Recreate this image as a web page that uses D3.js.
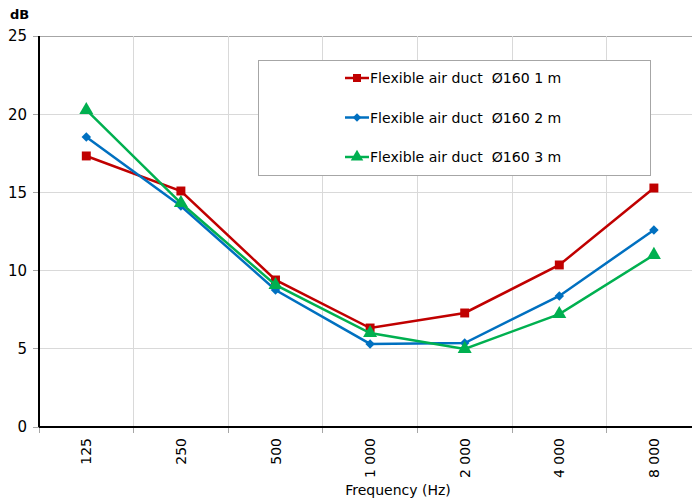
<!DOCTYPE html>
<html><head><meta charset="utf-8">
<script src="https://cdn.jsdelivr.net/npm/d3@7"></script>
<style>body{margin:0;background:#fff}svg{display:block}text{white-space:pre}</style>
</head><body><svg id="c" width="692" height="500"></svg>
<script>
const categories = ["125","250","500","1 000","2 000","4 000","8 000"];
const series1m = [17.33,15.09,9.4,6.33,7.29,10.36,15.28];
const series2m = [18.54,14.13,8.76,5.31,5.37,8.38,12.6];
const series3m = [20.27,14.32,9.08,6.01,4.99,7.22,11.0];
const seriesNames = ["Flexible air duct  Ø160 1 m","Flexible air duct  Ø160 2 m","Flexible air duct  Ø160 3 m"];
const yTicks = [0,5,10,15,20,25];

const colors = ["#C00000","#0070C0","#00B050"];
const symbols = [d3.symbolSquare, d3.symbolSquare, d3.symbolTriangle];
const symRot = [0, 45, 0];
const symSizes = [80, 45, 85];
const allSeries = [series1m, series2m, series3m];

const svg = d3.select("#c");
const font = "Tahoma, 'DejaVu Sans', Verdana, sans-serif";
const L = 39, T = 36, B = 427, band = 94.6;
const x = d3.scaleBand().domain(categories).range([L, L + band*categories.length]).paddingInner(0).paddingOuter(0);
const y = d3.scaleLinear().domain([0,25]).range([B, T]);

// horizontal grid
svg.append("g").selectAll("line").data(yTicks).join("line")
  .attr("x1", L-6).attr("x2", 692).attr("y1", d=>y(d)).attr("y2", d=>y(d))
  .attr("stroke", d => d===25 ? "#a6a6a6" : "#d9d9d9").attr("stroke-width",1).attr("shape-rendering","crispEdges");
// vertical grid
const bounds = categories.slice(1).map(c => x(c));
svg.append("g").selectAll("line").data(bounds).join("line")
  .attr("x1", d=>d).attr("x2", d=>d).attr("y1", T).attr("y2", B+6)
  .attr("stroke","#d9d9d9").attr("stroke-width",1).attr("shape-rendering","crispEdges");
// x ticks below axis
svg.append("g").selectAll("line").data(bounds.concat([L])).join("line")
  .attr("x1", d=>d).attr("x2", d=>d).attr("y1", B).attr("y2", B+6)
  .attr("stroke","#a6a6a6").attr("shape-rendering","crispEdges");
// y ticks
svg.append("g").selectAll("line").data(yTicks).join("line")
  .attr("x1", L-6).attr("x2", L).attr("y1", d=>y(d)).attr("y2", d=>y(d))
  .attr("stroke","#a6a6a6").attr("shape-rendering","crispEdges");

// axes lines
svg.append("line").attr("x1",L).attr("x2",L).attr("y1",T).attr("y2",B).attr("stroke","#000").attr("stroke-width",1.5).attr("shape-rendering","crispEdges");
svg.append("line").attr("x1",L).attr("x2",692).attr("y1",B).attr("y2",B).attr("stroke","#000").attr("stroke-width",1.5).attr("shape-rendering","crispEdges");

// y labels
svg.append("g").selectAll("text").data(yTicks).join("text")
  .attr("x", 27).attr("y", d=>y(d)).attr("dy","0.36em").attr("text-anchor","end")
  .attr("font-family",font).attr("font-size",15).attr("fill","#000").text(d=>d);
svg.append("text").attr("x",10).attr("y",19).attr("font-family",font).attr("font-size",13).attr("font-weight","bold").text("dB");

// x labels
svg.append("g").selectAll("text").data(categories).join("text")
  .attr("transform", d=>`translate(${x(d)+x.bandwidth()/2+5},438) rotate(-90)`)
  .attr("text-anchor","end").attr("font-family",font).attr("font-size",14).text(d=>d);
svg.append("text").attr("x",398).attr("y",495).attr("text-anchor","middle")
  .attr("font-family",font).attr("font-size",14).text("Frequency (Hz)");

// series
const cx = c => x(c) + x.bandwidth()/2;
allSeries.forEach((s, i) => {
  const line = d3.line().x((d,j)=>cx(categories[j])).y(d=>y(d));
  svg.append("path").datum(s).attr("d", line).attr("fill","none").attr("stroke",colors[i]).attr("stroke-width",2.5);
  svg.append("g").selectAll("path").data(s).join("path")
    .attr("transform",(d,j)=>`translate(${cx(categories[j])},${y(d)}) rotate(${symRot[i]})`)
    .attr("d", d3.symbol().type(symbols[i]).size(symSizes[i])).attr("fill",colors[i]);
});

// legend
const lg = svg.append("g");
lg.append("rect").attr("x",258.5).attr("y",60.5).attr("width",392).attr("height",115).attr("fill","#fff").attr("stroke","#a6a6a6");
seriesNames.forEach((n,i) => {
  const ly = 78 + i*39.5;
  lg.append("line").attr("x1",345).attr("x2",369).attr("y1",ly).attr("y2",ly).attr("stroke",colors[i]).attr("stroke-width",2.5);
  lg.append("path").attr("transform",`translate(357,${ly}) rotate(${symRot[i]})`).attr("d",d3.symbol().type(symbols[i]).size(symSizes[i]*0.8)).attr("fill",colors[i]);
  lg.append("text").attr("x",370).attr("y",ly).attr("dy","0.36em").attr("font-family",font).attr("font-size",14.1).text(n);
});
</script></body></html>
